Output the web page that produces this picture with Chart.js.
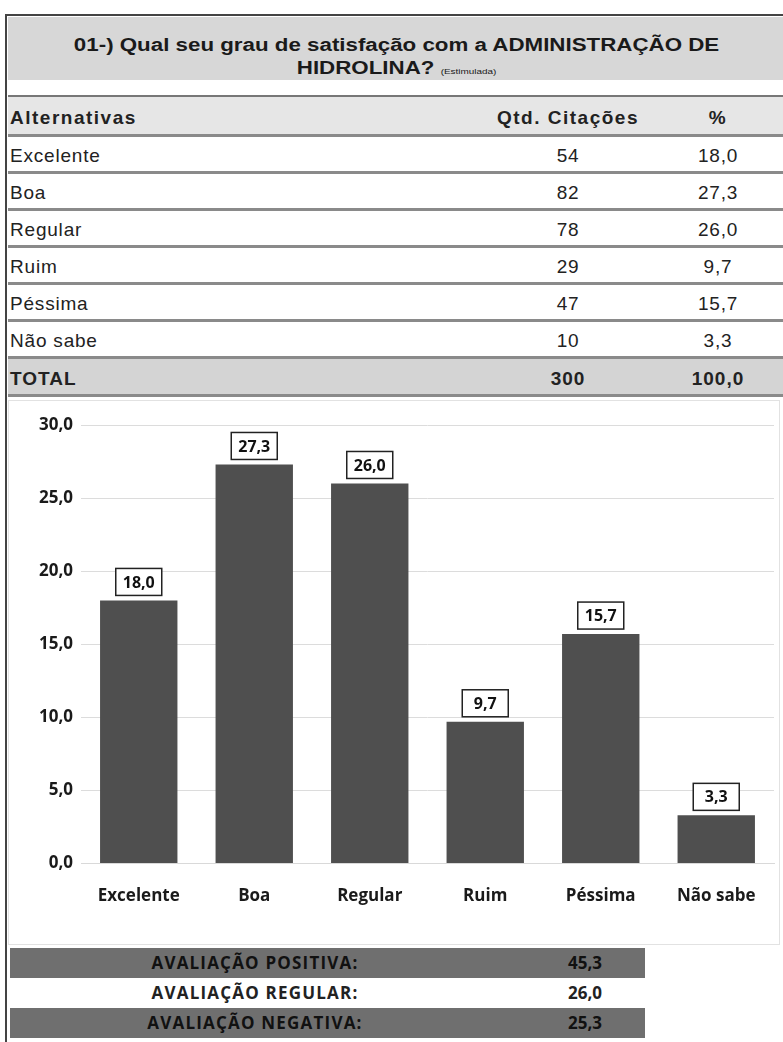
<!DOCTYPE html>
<html>
<head>
<meta charset="utf-8">
<script src="https://cdn.jsdelivr.net/npm/chart.js@4.4.1/dist/chart.umd.min.js"></script>
<style>
  body { margin: 0; background: #fff; width: 783px; height: 1042px; overflow: hidden; position: relative; font-family: "Liberation Sans", Arial, sans-serif; color: #222; }
  #frame { position: absolute; left: 5px; top: 14px; width: 800px; height: 1040px; border-left: 2px solid #444; border-top: 2px solid #444; }
  #title { position: absolute; left: 8px; top: 17px; width: 780px; height: 63px; background: #d7d7d7; text-align: center; font-weight: bold; font-size: 18px; line-height: 23px; padding-top: 17px; box-sizing: border-box; color: #1a1a1a; }
  #title div { transform: scaleX(1.24); transform-origin: 396px 0; }
  #title small { font-size: 8px; font-weight: normal; }
  table { position: absolute; left: 8px; top: 95px; width: 780px; border-collapse: collapse; font-size: 19px; letter-spacing: 0.8px; }
  td { height: 30px; padding: 4px 0 0 0; border-bottom: 3px solid #8a8a8a; }
  tr.head td { background: #e6e6e6; font-weight: bold; border-top: 2px solid #777; height: 33px; letter-spacing: 1.5px; }
  tr.total td { background: #d4d4d4; font-weight: bold; height: 31px; letter-spacing: 1px; }
  td.a { padding-left: 2px; }
  td.q { width: 160px; text-align: center; }
  td.p { width: 140px; text-align: center; }
  #chartbox { position: absolute; left: 8px; top: 400px; width: 772px; height: 545px; border: 1px solid #e2e2e2; box-sizing: border-box; }
  #summary { position: absolute; left: 10px; top: 948px; width: 635px; font-family: "Open Sans", sans-serif; font-weight: bold; font-size: 17px; }
  .srow { height: 30px; line-height: 30px; position: relative; }
  .srow.dark { background: #6f6f6f; color: #111; }
  .srow span.l { position: absolute; left: 95px; width: 300px; text-align: center; letter-spacing: 1.2px; }
  .srow span.v { position: absolute; left: 545px; width: 60px; text-align: center; }
</style>
</head>
<body>
<div id="frame"></div>
<div id="title"><div>01-) Qual seu grau de satisfação com a ADMINISTRAÇÃO DE<br>HIDROLINA? <small>(Estimulada)</small></div></div>
<table id="tbl"></table>
<div id="chartbox"><canvas id="graph-canvas"></canvas></div>
<div id="summary"></div>
<script>
var alternativas = ['Excelente', 'Boa', 'Regular', 'Ruim', 'Péssima', 'Não sabe'];
var citacoes = [54, 82, 78, 29, 47, 10];
var percentuais = [18.0, 27.3, 26.0, 9.7, 15.7, 3.3];
var totalCitacoes = 300;
var totalPercentual = 100.0;
var avaliacoes = ['AVALIAÇÃO POSITIVA:', 'AVALIAÇÃO REGULAR:', 'AVALIAÇÃO NEGATIVA:'];
var avaliacoesValores = [45.3, 26.0, 25.3];

function fmt(v) {
	return v.toFixed(1).replace('.', ',');
}

// tabela
var html = '<tr class="head"><td class="a">Alternativas</td><td class="q">Qtd. Citações</td><td class="p">%</td></tr>';
for (var i in alternativas) {
	html += '<tr><td class="a">' + alternativas[i] + '</td><td class="q">' + citacoes[i] + '</td><td class="p">' + fmt(percentuais[i]) + '</td></tr>';
}
html += '<tr class="total"><td class="a">TOTAL</td><td class="q">' + totalCitacoes + '</td><td class="p">' + fmt(totalPercentual) + '</td></tr>';
document.getElementById('tbl').innerHTML = html;

// resumo
var s = '';
for (var j in avaliacoes) {
	s += '<div class="srow' + (j == 1 ? '' : ' dark') + '"><span class="l">' + avaliacoes[j] + '</span><span class="v">' + fmt(avaliacoesValores[j]) + '</span></div>';
}
document.getElementById('summary').innerHTML = s;

// rotulos com caixa em cima das barras
var boxLabels = {
	id: 'boxLabels',
	afterDatasetsDraw: function(chart) {
		var ctx = chart.ctx;
		var meta = chart.getDatasetMeta(0);
		ctx.save();
		ctx.font = 'bold 16px "Open Sans", sans-serif';
		ctx.textAlign = 'center';
		ctx.textBaseline = 'middle';
		meta.data.forEach(function(bar, k) {
			var w = 46, h = 27;
			var x = bar.x - w / 2, y = bar.y - 5 - h;
			ctx.fillStyle = '#fff';
			ctx.fillRect(x, y, w, h);
			ctx.strokeStyle = '#222';
			ctx.lineWidth = 1.5;
			ctx.strokeRect(x, y, w, h);
			ctx.fillStyle = '#111';
			ctx.fillText(fmt(chart.data.datasets[0].data[k]), bar.x, y + h / 2 + 1);
		});
		ctx.restore();
	}
};

var ctx = document.getElementById('graph-canvas');
new Chart(ctx, {
	type: 'bar',
	data: {
		labels: alternativas,
		datasets: [{
			label: '%',
			data: percentuais,
			backgroundColor: '#4f4f4f',
			borderWidth: 0,
			barPercentage: 0.67,
			categoryPercentage: 1.0
		}]
	},
	options: {
		responsive: true,
		maintainAspectRatio: false,
		animation: false,
		layout: { padding: { top: 24, right: 5, bottom: 16, left: 0 } },
		plugins: { legend: { display: false }, tooltip: { enabled: false } },
		scales: {
			x: {
				grid: { display: false, drawTicks: false },
				border: { display: true, color: '#d9d9d9' },
				ticks: { padding: 22, color: '#1a1a1a', font: { family: '"Open Sans", sans-serif', size: 17, weight: 'bold' } }
			},
			y: {
				min: 0,
				max: 30,
				afterFit: function(scale) { scale.width = 72; },
				grid: { color: '#dcdcdc', drawTicks: false },
				border: { display: false },
				ticks: {
					stepSize: 5,
					padding: 8,
					color: '#1a1a1a',
					font: { family: '"Open Sans", sans-serif', size: 17, weight: 'bold' },
					callback: function(v) { return fmt(v); }
				}
			}
		}
	},
	plugins: [boxLabels]
});
</script>
</body>
</html>
